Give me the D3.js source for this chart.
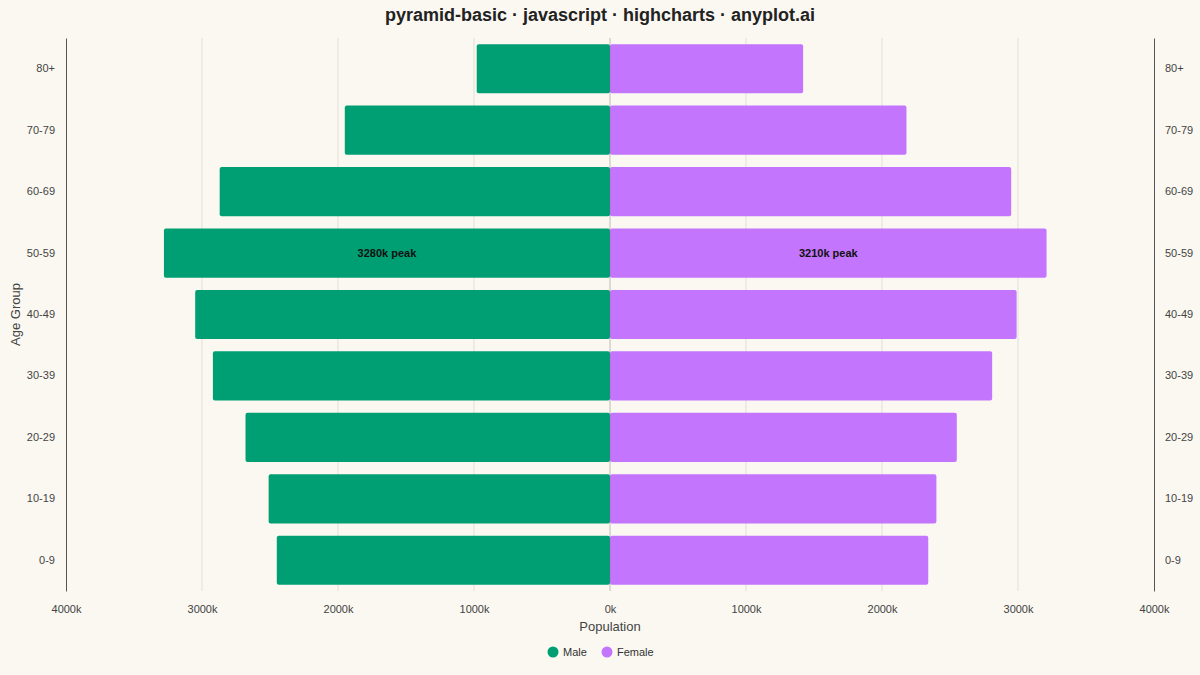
<!DOCTYPE html>
<html>
<head>
<meta charset="utf-8">
<script src="https://cdn.jsdelivr.net/npm/d3@7"></script>
<style>
  html, body { margin: 0; padding: 0; background: #FAF8F1; }
  svg { display: block; font-family: "Liberation Sans", Arial, sans-serif; }
</style>
</head>
<body>
<svg id="chart" width="1200" height="675"></svg>
<script>
// age groups, oldest on top
const ageGroups = ["80+", "70-79", "60-69", "50-59", "40-49", "30-39", "20-29", "10-19", "0-9"];
// population in thousands
const maleValues = [980, 1950, 2870, 3280, 3050, 2920, 2680, 2510, 2450];
const femaleValues = [1420, 2180, 2950, 3210, 2990, 2810, 2550, 2400, 2340];
const xTicks = [-4000, -3000, -2000, -1000, 0, 1000, 2000, 3000, 4000];
const seriesNames = ["Male", "Female"];
const seriesColors = ["#009E73", "#C475FD"];

const svg = d3.select("#chart");
const width = 1200, height = 675;
const margin = { top: 38, right: 46, bottom: 84, left: 66 };

const x = d3.scaleLinear()
    .domain([-4000, 4000])
    .range([margin.left, width - margin.right]);

const y = d3.scaleBand()
    .domain(ageGroups)
    .range([margin.top, height - margin.bottom])
    .paddingInner(0.2)
    .paddingOuter(0.1);

// title
svg.append("text")
    .attr("x", width / 2)
    .attr("y", 21)
    .attr("text-anchor", "middle")
    .attr("font-size", 18)
    .attr("font-weight", "bold")
    .attr("fill", "#222")
    .text("pyramid-basic · javascript · highcharts · anyplot.ai");

// gridlines
svg.append("g")
    .selectAll("line")
    .data(xTicks.filter(d => Math.abs(d) !== 4000))
    .join("line")
    .attr("x1", d => x(d))
    .attr("x2", d => x(d))
    .attr("y1", margin.top)
    .attr("y2", height - margin.bottom)
    .attr("stroke", "#e2dfd7")
    .attr("stroke-width", 1);

// bars
const rows = ageGroups.map((g, i) => ({ group: g, male: maleValues[i], female: femaleValues[i] }));

svg.append("g")
    .selectAll("rect")
    .data(rows)
    .join("rect")
    .attr("x", d => x(-d.male))
    .attr("y", d => y(d.group))
    .attr("width", d => x(0) - x(-d.male))
    .attr("height", y.bandwidth())
    .attr("rx", 2)
    .attr("fill", seriesColors[0]);

svg.append("g")
    .selectAll("rect")
    .data(rows)
    .join("rect")
    .attr("x", x(0))
    .attr("y", d => y(d.group))
    .attr("width", d => x(d.female) - x(0))
    .attr("height", y.bandwidth())
    .attr("rx", 2)
    .attr("fill", seriesColors[1]);

// faint centre line over the bars
svg.append("line")
    .attr("x1", x(0)).attr("x2", x(0))
    .attr("y1", margin.top).attr("y2", height - margin.bottom)
    .attr("stroke", "#777")
    .attr("stroke-opacity", 0.3)
    .attr("stroke-width", 1);

// peak labels
const maleMax = d3.max(maleValues), femaleMax = d3.max(femaleValues);
const peakM = rows.find(d => d.male === maleMax);
const peakF = rows.find(d => d.female === femaleMax);

svg.append("text")
    .attr("x", (x(-maleMax) + x(0)) / 2)
    .attr("y", y(peakM.group) + y.bandwidth() / 2 + 4)
    .attr("text-anchor", "middle")
    .attr("font-size", 11)
    .attr("font-weight", "bold")
    .attr("fill", "#111")
    .text(maleMax + "k peak");

svg.append("text")
    .attr("x", (x(0) + x(femaleMax)) / 2)
    .attr("y", y(peakF.group) + y.bandwidth() / 2 + 4)
    .attr("text-anchor", "middle")
    .attr("font-size", 11)
    .attr("font-weight", "bold")
    .attr("fill", "#111")
    .text(femaleMax + "k peak");

// x axis
const xAxis = svg.append("g")
    .attr("transform", `translate(0,${height - margin.bottom})`)
    .call(d3.axisBottom(x).tickValues(xTicks).tickSize(0).tickPadding(14)
        .tickFormat(d => Math.abs(d) + "k"));
xAxis.select(".domain").remove();
xAxis.selectAll("text").attr("font-size", 11).attr("fill", "#444").attr("font-family", "Liberation Sans, Arial, sans-serif");

svg.append("text")
    .attr("x", x(0))
    .attr("y", 631)
    .attr("text-anchor", "middle")
    .attr("font-size", 13)
    .attr("fill", "#444")
    .text("Population");

// y axes (both sides)
const yLeft = svg.append("g")
    .attr("transform", `translate(${margin.left},0)`)
    .call(d3.axisLeft(y).tickSize(0).tickPadding(11));
yLeft.select(".domain").attr("stroke", "#555");
yLeft.selectAll("text").attr("font-size", 11).attr("fill", "#444").attr("font-family", "Liberation Sans, Arial, sans-serif");

const yRight = svg.append("g")
    .attr("transform", `translate(${width - margin.right},0)`)
    .call(d3.axisRight(y).tickSize(0).tickPadding(11));
yRight.select(".domain").attr("stroke", "#555");
yRight.selectAll("text").attr("font-size", 11).attr("fill", "#444").attr("font-family", "Liberation Sans, Arial, sans-serif");

svg.append("text")
    .attr("transform", `translate(20,${(margin.top + height - margin.bottom) / 2}) rotate(-90)`)
    .attr("text-anchor", "middle")
    .attr("font-size", 13)
    .attr("fill", "#444")
    .text("Age Group");

// legend
const legend = svg.append("g").attr("transform", "translate(553,652)");
const legendX = [0, 54];
seriesNames.forEach((name, i) => {
    const item = legend.append("g").attr("transform", `translate(${legendX[i]},0)`);
    item.append("circle").attr("r", 5.5).attr("fill", seriesColors[i]);
    item.append("text")
        .attr("x", 10)
        .attr("y", 4)
        .attr("font-size", 11)
        .attr("fill", "#333")
        .text(name);
});
</script>
</body>
</html>
